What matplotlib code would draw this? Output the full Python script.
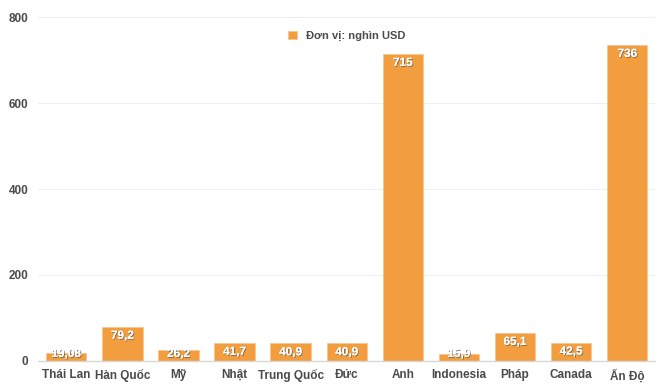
import matplotlib
matplotlib.use('Agg')
import matplotlib.pyplot as plt
import matplotlib.patheffects as pe

# data
countries = ['Thái Lan', 'Hàn Quốc', 'Mỹ', 'Nhật', 'Trung Quốc', 'Đức',
             'Anh', 'Indonesia', 'Pháp', 'Canada', 'Ấn Độ']
values = [19.08, 79.2, 26.2, 41.7, 40.9, 40.9, 715, 15.9, 65.1, 42.5, 736]
value_labels = ['19,08', '79,2', '26,2', '41,7', '40,9', '40,9',
                '715', '15,9', '65,1', '42,5', '736']
yticks = [0, 200, 400, 600, 800]

plt.rcParams['font.family'] = ['Liberation Sans', 'DejaVu Sans']

bar_color = '#F29D3E'
text_color = '#4a4a4a'

fig = plt.figure(figsize=(6.7, 3.88), dpi=100)
ax = fig.add_axes([0.057, 0.07, 0.921, 0.885])

x = range(len(countries))
ax.bar(x, values, width=0.72, color=bar_color, edgecolor='#f7c590',
       linewidth=0.6, label='Đơn vị: nghìn USD', zorder=2)

shadow = [pe.withSimplePatchShadow(offset=(0.6, -0.6), shadow_rgbFace='#555555', alpha=0.8),
          pe.Normal()]
for xi, v, lab in zip(x, values, value_labels):
    # label sits inside the top of the bar, but never drops below the baseline
    ypos = max(v - 21, 16)
    ax.text(xi, ypos, lab, ha='center', va='center', color='white',
            fontsize=8.5, fontweight='bold', path_effects=shadow, zorder=3)

ax.set_xlim(-0.5, 10.5)
ax.set_ylim(0, 800)
ax.set_yticks(yticks)
ax.set_xticks(list(x))
ax.set_xticklabels(countries)
ax.grid(axis='y', color='#efefef', linewidth=0.8, zorder=0)
ax.set_axisbelow(True)

for s in ['top', 'right', 'left']:
    ax.spines[s].set_visible(False)
ax.spines['bottom'].set_color('#d8d8d8')
ax.spines['bottom'].set_linewidth(1.0)

ax.tick_params(axis='both', length=0, labelsize=8.5, labelcolor=text_color)
ax.tick_params(axis='x', pad=6)
ax.tick_params(axis='y', pad=7)
for lbl in ax.get_xticklabels() + ax.get_yticklabels():
    lbl.set_fontweight('bold')

leg = ax.legend(loc='upper center', bbox_to_anchor=(0.5, 0.99), frameon=False,
                handlelength=0.8, handleheight=0.8, handletextpad=0.8,
                prop={'size': 8, 'weight': 'bold'})
for t in leg.get_texts():
    t.set_color(text_color)

fig.savefig('out.png', dpi=100)
